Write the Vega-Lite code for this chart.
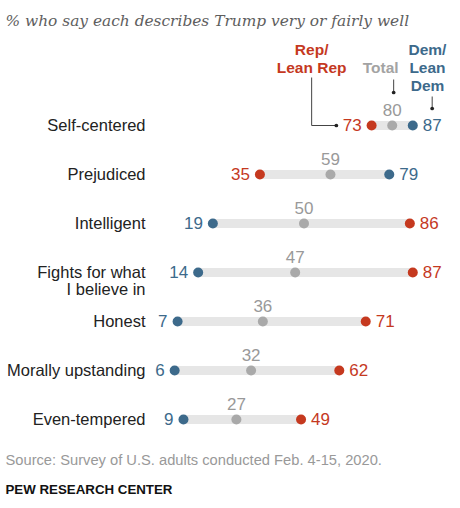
{
  "$schema": "https://vega.github.io/schema/vega-lite/v6.json",
  "width": 294,
  "height": 343,
  "autosize": {"type": "none"},
  "padding": {"left": 157, "top": 101, "right": 9, "bottom": 64},
  "background": "white",
  "config": {"view": {"stroke": null}, "font": "Liberation Sans"},
  "datasets": {
    "survey": [
      {"trait": "Self-centered", "group": "Rep", "value": 73},
      {"trait": "Self-centered", "group": "Total", "value": 80},
      {"trait": "Self-centered", "group": "Dem", "value": 87},
      {"trait": "Prejudiced", "group": "Rep", "value": 35},
      {"trait": "Prejudiced", "group": "Total", "value": 59},
      {"trait": "Prejudiced", "group": "Dem", "value": 79},
      {"trait": "Intelligent", "group": "Rep", "value": 86},
      {"trait": "Intelligent", "group": "Total", "value": 50},
      {"trait": "Intelligent", "group": "Dem", "value": 19},
      {"trait": "Fights for what I believe in", "group": "Rep", "value": 87},
      {"trait": "Fights for what I believe in", "group": "Total", "value": 47},
      {"trait": "Fights for what I believe in", "group": "Dem", "value": 14},
      {"trait": "Honest", "group": "Rep", "value": 71},
      {"trait": "Honest", "group": "Total", "value": 36},
      {"trait": "Honest", "group": "Dem", "value": 7},
      {"trait": "Morally upstanding", "group": "Rep", "value": 62},
      {"trait": "Morally upstanding", "group": "Total", "value": 32},
      {"trait": "Morally upstanding", "group": "Dem", "value": 6},
      {"trait": "Even-tempered", "group": "Rep", "value": 49},
      {"trait": "Even-tempered", "group": "Total", "value": 27},
      {"trait": "Even-tempered", "group": "Dem", "value": 9}
    ],
    "one": [{"note": "annotation"}]
  },
  "data": {"name": "survey"},
  "resolve": {"axis": {"x": "independent"}},
  "layer": [
    {
      "transform": [{"filter": "datum.group !== 'Total'"}],
      "mark": {"type": "rule", "strokeWidth": 9, "color": "#e6e6e6"},
      "encoding": {
        "x": {
          "aggregate": "min", "field": "value", "type": "quantitative",
          "scale": {"domain": [0, 100], "nice": false, "zero": false},
          "axis": {
            "orient": "top", "labels": false, "ticks": false, "domain": false, "grid": false,
            "title": "% who say each describes Trump very or fairly well",
            "titleFont": "DejaVu Serif", "titleFontStyle": "italic", "titleFontWeight": "normal",
            "titleFontSize": 15.4, "titleColor": "#5e5e5e", "titleAlign": "left", "titleAnchor": "start",
            "titleBaseline": "middle", "titleX": -152, "titleY": -81
          }
        },
        "x2": {"aggregate": "max", "field": "value"},
        "y": {
          "field": "trait", "type": "nominal",
          "scale": {
            "type": "point", "padding": 0.5,
            "domain": ["Self-centered", "Prejudiced", "Intelligent", "Fights for what I believe in", "Honest", "Morally upstanding", "Even-tempered"]
          },
          "axis": {
            "ticks": false, "domain": false, "grid": false,
            "labelPadding": 12, "labelFontSize": 16.5, "labelColor": "#222222", "labelLineHeight": 17,
            "labelExpr": "datum.label == 'Fights for what I believe in' ? ['Fights for what', 'I believe in'] : datum.label",
            "title": "PEW RESEARCH CENTER", "titleAngle": 0, "titleX": -152, "titleY": 388,
            "titleAlign": "left", "titleBaseline": "middle", "titleFontWeight": "bold",
            "titleFontSize": 13.3, "titleColor": "#111111"
          }
        }
      }
    },
    {
      "mark": {"type": "circle", "size": 100, "opacity": 1},
      "encoding": {
        "x": {
          "field": "value", "type": "quantitative",
          "axis": {
            "orient": "bottom", "labels": false, "ticks": false, "domain": false, "grid": false,
            "title": "Source: Survey of U.S. adults conducted Feb. 4-15, 2020.",
            "titleFontWeight": "normal", "titleFontSize": 14.7, "titleColor": "#999999",
            "titleAlign": "left", "titleAnchor": "start", "titleBaseline": "middle",
            "titleX": -152, "titleY": 16
          }
        },
        "y": {"field": "trait", "type": "nominal"},
        "color": {
          "field": "group", "type": "nominal",
          "scale": {"domain": ["Rep", "Total", "Dem"], "range": ["#c5391f", "#a9a9a9", "#3d6a8b"]},
          "legend": null
        }
      }
    },
    {
      "transform": [{"filter": "datum.group === 'Total'"}],
      "mark": {"type": "text", "fontSize": 17, "color": "#999999", "dy": -15, "baseline": "middle"},
      "encoding": {
        "x": {"field": "value", "type": "quantitative", "axis": null},
        "y": {"field": "trait", "type": "nominal"},
        "text": {"field": "value"}
      }
    },
    {
      "transform": [
        {"filter": "datum.group !== 'Total'"},
        {"joinaggregate": [{"op": "max", "field": "value", "as": "maxv"}], "groupby": ["trait"]},
        {"filter": "datum.value === datum.maxv"}
      ],
      "mark": {"type": "text", "fontSize": 17, "align": "left", "dx": 10, "baseline": "middle"},
      "encoding": {
        "x": {"field": "value", "type": "quantitative", "axis": null},
        "y": {"field": "trait", "type": "nominal"},
        "text": {"field": "value"},
        "color": {"field": "group", "type": "nominal", "legend": null}
      }
    },
    {
      "transform": [
        {"filter": "datum.group !== 'Total'"},
        {"joinaggregate": [{"op": "min", "field": "value", "as": "minv"}], "groupby": ["trait"]},
        {"filter": "datum.value === datum.minv"}
      ],
      "mark": {"type": "text", "fontSize": 17, "align": "right", "dx": -10, "baseline": "middle"},
      "encoding": {
        "x": {"field": "value", "type": "quantitative", "axis": null},
        "y": {"field": "trait", "type": "nominal"},
        "text": {"field": "value"},
        "color": {"field": "group", "type": "nominal", "legend": null}
      }
    },
    {
      "data": {"name": "one"},
      "mark": {"type": "text", "fontSize": 15.5, "fontWeight": "bold", "color": "#c5391f", "align": "center", "baseline": "middle", "lineHeight": 18, "dy": -76},
      "encoding": {
        "x": {"datum": 52.6, "type": "quantitative", "axis": null},
        "y": {"datum": "Self-centered", "type": "nominal"},
        "text": {"value": ["Rep/", "Lean Rep"]}
      }
    },
    {
      "data": {"name": "one"},
      "mark": {"type": "text", "fontSize": 15.5, "fontWeight": "bold", "color": "#a3a3a3", "align": "center", "baseline": "middle", "dy": -58},
      "encoding": {
        "x": {"datum": 76.1, "type": "quantitative", "axis": null},
        "y": {"datum": "Self-centered", "type": "nominal"},
        "text": {"value": "Total"}
      }
    },
    {
      "data": {"name": "one"},
      "mark": {"type": "text", "fontSize": 15.5, "fontWeight": "bold", "color": "#3d6a8b", "align": "center", "baseline": "middle", "lineHeight": 18, "dy": -76},
      "encoding": {
        "x": {"datum": 92.0, "type": "quantitative", "axis": null},
        "y": {"datum": "Self-centered", "type": "nominal"},
        "text": {"value": ["Dem/", "Lean", "Dem"]}
      }
    },
    {
      "data": {"name": "one"},
      "mark": {"type": "rule", "color": "#444444", "strokeWidth": 1, "yOffset": -48, "y2Offset": 0},
      "encoding": {
        "x": {"datum": 52.6, "type": "quantitative", "axis": null},
        "y": {"datum": "Self-centered", "type": "nominal"},
        "y2": {"datum": "Self-centered"}
      }
    },
    {
      "data": {"name": "one"},
      "mark": {"type": "rule", "color": "#444444", "strokeWidth": 1},
      "encoding": {
        "x": {"datum": 52.6, "type": "quantitative", "axis": null},
        "x2": {"datum": 61.0},
        "y": {"datum": "Self-centered", "type": "nominal"}
      }
    },
    {
      "data": {"name": "one"},
      "mark": {"type": "rule", "color": "#444444", "strokeWidth": 1, "yOffset": -46, "y2Offset": -33},
      "encoding": {
        "x": {"datum": 80.5, "type": "quantitative", "axis": null},
        "y": {"datum": "Self-centered", "type": "nominal"},
        "y2": {"datum": "Self-centered"}
      }
    },
    {
      "data": {"name": "one"},
      "mark": {"type": "rule", "color": "#444444", "strokeWidth": 1, "yOffset": -29, "y2Offset": -17},
      "encoding": {
        "x": {"datum": 93.6, "type": "quantitative", "axis": null},
        "y": {"datum": "Self-centered", "type": "nominal"},
        "y2": {"datum": "Self-centered"}
      }
    },
    {
      "data": {"name": "one"},
      "mark": {"type": "circle", "size": 14, "opacity": 1, "color": "#222222"},
      "encoding": {
        "x": {"datum": 61.0, "type": "quantitative", "axis": null},
        "y": {"datum": "Self-centered", "type": "nominal"}
      }
    },
    {
      "data": {"name": "one"},
      "mark": {"type": "circle", "size": 14, "opacity": 1, "color": "#222222", "yOffset": -33},
      "encoding": {
        "x": {"datum": 80.5, "type": "quantitative", "axis": null},
        "y": {"datum": "Self-centered", "type": "nominal"}
      }
    },
    {
      "data": {"name": "one"},
      "mark": {"type": "circle", "size": 14, "opacity": 1, "color": "#222222", "yOffset": -17},
      "encoding": {
        "x": {"datum": 93.6, "type": "quantitative", "axis": null},
        "y": {"datum": "Self-centered", "type": "nominal"}
      }
    }
  ]
}
